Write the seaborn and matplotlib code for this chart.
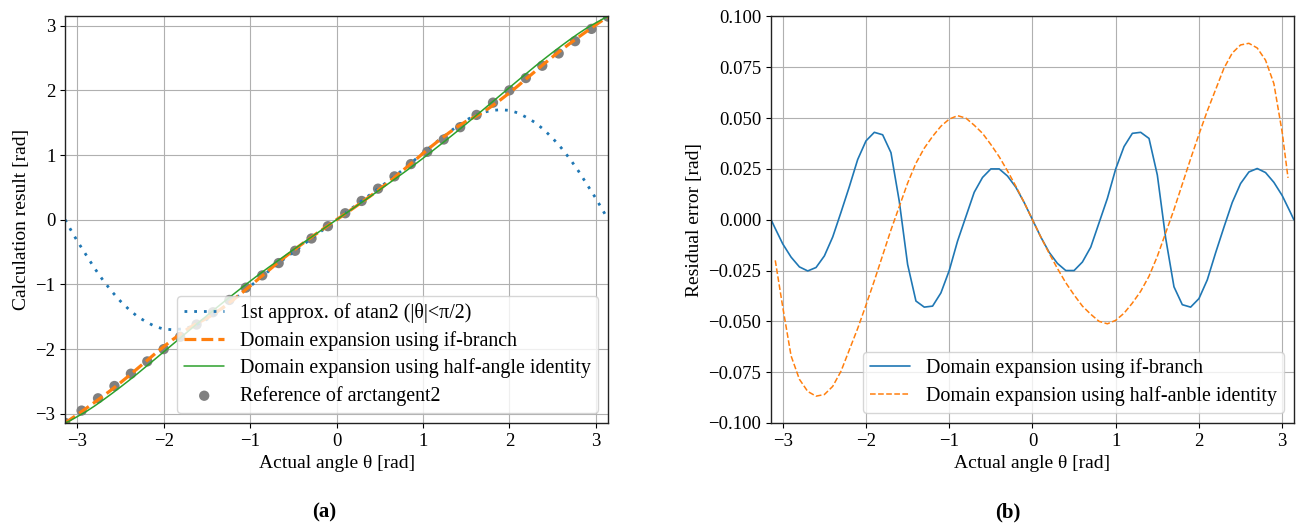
import numpy as np
import matplotlib
matplotlib.use("Agg")
import matplotlib.pyplot as plt
import seaborn as sns

# ---------------- data ----------------
theta = [-3.14, -3.1, -3.0, -2.9, -2.8, -2.7, -2.6, -2.5, -2.4, -2.3, -2.2, -2.1,
         -2.0, -1.9, -1.8, -1.7, -1.6, -1.5, -1.4, -1.3, -1.2, -1.1, -1.0, -0.9,
         -0.8, -0.7, -0.6, -0.5, -0.4, -0.3, -0.2, -0.1, 0.0,
         0.1, 0.2, 0.3, 0.4, 0.5, 0.6, 0.7, 0.8, 0.9, 1.0, 1.1, 1.2, 1.3, 1.4,
         1.5, 1.6, 1.7, 1.8, 1.9, 2.0, 2.1, 2.2, 2.3, 2.4, 2.5, 2.6, 2.7, 2.8,
         2.9, 3.0, 3.1, 3.14]

approx1 = [0.00, -0.10, -0.33, -0.54, -0.75, -0.94, -1.11, -1.26, -1.39, -1.50, -1.58, -1.65,
           -1.69, -1.70, -1.69, -1.66, -1.61, -1.54, -1.45, -1.35, -1.25, -1.14, -1.03, -0.92,
           -0.81, -0.70, -0.60, -0.50, -0.40, -0.30, -0.20, -0.10, 0.00,
           0.10, 0.20, 0.30, 0.40, 0.50, 0.60, 0.70, 0.81, 0.92, 1.03, 1.14, 1.25, 1.35, 1.45,
           1.54, 1.61, 1.66, 1.69, 1.70, 1.69, 1.65, 1.58, 1.50, 1.39, 1.26, 1.11, 0.94, 0.75,
           0.54, 0.33, 0.10, 0.00]

if_branch = [-3.140, -3.104, -3.012, -2.918, -2.823, -2.725, -2.624, -2.518, -2.409, -2.296,
             -2.184, -2.070, -1.961, -1.857, -1.759, -1.667, -1.591, -1.522, -1.440, -1.343,
             -1.243, -1.136, -1.025, -0.911, -0.799, -0.687, -0.579, -0.475, -0.375, -0.279,
             -0.184, -0.092, 0.000,
             0.092, 0.184, 0.279, 0.375, 0.475, 0.579, 0.687, 0.799, 0.911, 1.025, 1.136,
             1.243, 1.343, 1.440, 1.522, 1.591, 1.667, 1.759, 1.857, 1.961, 2.070, 2.184,
             2.296, 2.409, 2.518, 2.624, 2.725, 2.823, 2.918, 3.012, 3.104, 3.140]

half_angle = [-3.140, -3.118, -3.043, -2.967, -2.879, -2.785, -2.687, -2.586, -2.482, -2.375,
              -2.264, -2.154, -2.042, -1.930, -1.818, -1.705, -1.594, -1.482, -1.372, -1.265,
              -1.159, -1.054, -0.950, -0.849, -0.750, -0.654, -0.558, -0.463, -0.369, -0.276,
              -0.184, -0.092, 0.000,
              0.092, 0.184, 0.276, 0.369, 0.463, 0.558, 0.654, 0.750, 0.849, 0.950, 1.054,
              1.159, 1.265, 1.372, 1.482, 1.594, 1.705, 1.818, 1.930, 2.042, 2.154, 2.264,
              2.375, 2.482, 2.586, 2.687, 2.785, 2.879, 2.967, 3.043, 3.118, 3.140]

ref_x = [-3.14, -2.95, -2.76, -2.57, -2.38, -2.19, -2.00, -1.81, -1.62, -1.43, -1.24, -1.05,
         -0.86, -0.67, -0.48, -0.29, -0.10, 0.10, 0.29, 0.48, 0.67, 0.86, 1.05, 1.24, 1.43,
         1.62, 1.81, 2.00, 2.19, 2.38, 2.57, 2.76, 2.95, 3.14]
ref_y = [-3.14, -2.95, -2.76, -2.57, -2.38, -2.19, -2.00, -1.81, -1.62, -1.43, -1.24, -1.05,
         -0.86, -0.67, -0.48, -0.29, -0.10, 0.10, 0.29, 0.48, 0.67, 0.86, 1.05, 1.24, 1.43,
         1.62, 1.81, 2.00, 2.19, 2.38, 2.57, 2.76, 2.95, 3.14]

err_if = [0.0, -0.0035, -0.0119, -0.0184, -0.0232, -0.0252, -0.0235, -0.0178, -0.0085, 0.0037,
          0.0163, 0.0296, 0.0388, 0.0430, 0.0418, 0.0330, 0.0090, -0.0220, -0.0400, -0.0430,
          -0.0425, -0.0360, -0.0250, -0.0105, 0.0015, 0.0135, 0.0208, 0.0250, 0.0250, 0.0215,
          0.0160, 0.0085, 0.0,
          -0.0085, -0.0160, -0.0215, -0.0250, -0.0250, -0.0208, -0.0135, -0.0015, 0.0105,
          0.0250, 0.0360, 0.0425, 0.0430, 0.0400, 0.0220, -0.0090, -0.0330, -0.0418, -0.0430,
          -0.0388, -0.0296, -0.0163, -0.0037, 0.0085, 0.0178, 0.0235, 0.0252, 0.0232, 0.0184,
          0.0119, 0.0035, 0.0]

theta_half = [-3.09, -3.0, -2.9, -2.8, -2.7, -2.6, -2.5, -2.4, -2.3, -2.2, -2.1,
              -2.0, -1.9, -1.8, -1.7, -1.6, -1.5, -1.4, -1.3, -1.2, -1.1, -1.0, -0.9,
              -0.8, -0.7, -0.6, -0.5, -0.4, -0.3, -0.2, -0.1, 0.0,
              0.1, 0.2, 0.3, 0.4, 0.5, 0.6, 0.7, 0.8, 0.9, 1.0, 1.1, 1.2, 1.3, 1.4,
              1.5, 1.6, 1.7, 1.8, 1.9, 2.0, 2.1, 2.2, 2.3, 2.4, 2.5, 2.6, 2.7, 2.8,
              2.9, 3.0, 3.07]
err_half = [-0.0200, -0.0430, -0.0670, -0.0785, -0.0845, -0.0868, -0.0860, -0.0820, -0.0745,
            -0.0640, -0.0535, -0.0420, -0.0300, -0.0175, -0.0050, 0.0065, 0.0180, 0.0278,
            0.0352, 0.0410, 0.0460, 0.0495, 0.0512, 0.0500, 0.0465, 0.0425, 0.0370, 0.0310,
            0.0240, 0.0165, 0.0085, 0.0,
            -0.0085, -0.0165, -0.0240, -0.0310, -0.0370, -0.0425, -0.0465, -0.0500, -0.0512,
            -0.0495, -0.0460, -0.0410, -0.0352, -0.0278, -0.0180, -0.0065, 0.0050, 0.0175,
            0.0300, 0.0420, 0.0535, 0.0640, 0.0745, 0.0820, 0.0860, 0.0868, 0.0845, 0.0785,
            0.0670, 0.0430, 0.0206]

ticks_a = [-3, -2, -1, 0, 1, 2, 3]
yticks_b = [-0.100, -0.075, -0.050, -0.025, 0.000, 0.025, 0.050, 0.075, 0.100]

# ---------------- style ----------------
sns.set_style("ticks")
plt.rcParams["font.family"] = ["Liberation Serif", "DejaVu Serif"]
plt.rcParams["axes.unicode_minus"] = True
plt.rcParams["text.color"] = "black"
plt.rcParams["axes.labelcolor"] = "black"
plt.rcParams["xtick.color"] = "black"
plt.rcParams["ytick.color"] = "black"

fig = plt.figure(figsize=(13.01, 5.28), dpi=100)
ax1 = fig.add_axes([0.0500, 0.1989, 0.4174, 0.7699])
ax2 = fig.add_axes([0.5926, 0.1989, 0.4020, 0.7699])

blue, orange, green = "#1f77b4", "#ff7f0e", "#2ca02c"

# ----- panel (a) -----
sns.lineplot(x=theta, y=approx1, ax=ax1, color=blue, linewidth=2.0,
             linestyle=(0, (1, 2.5)), sort=False, errorbar=None,
             label="1st approx. of atan2 (|θ|<π/2)")
sns.lineplot(x=theta, y=if_branch, ax=ax1, color=orange, linewidth=2.3,
             linestyle="--", sort=False, errorbar=None,
             label="Domain expansion using if-branch")
sns.lineplot(x=theta, y=half_angle, ax=ax1, color=green, linewidth=1.1,
             linestyle="-", sort=False, errorbar=None,
             label="Domain expansion using half-angle identity")
sns.scatterplot(x=ref_x, y=ref_y, ax=ax1, color="#808080", s=55, edgecolor="none",
                zorder=1.8, label="Reference of arctangent2")

ax1.set_xlim(-np.pi, np.pi)
ax1.set_ylim(-np.pi, np.pi)
ax1.set_xticks(ticks_a)
ax1.set_yticks(ticks_a)
ax1.set_xlabel("Actual angle θ [rad]", fontsize=14)
ax1.set_ylabel("Calculation result [rad]", fontsize=14)
ax1.legend(loc="lower right", fontsize=14.4, framealpha=0.8, edgecolor="0.8",
           labelspacing=0.38, borderpad=0.35)

# ----- panel (b) -----
sns.lineplot(x=theta, y=err_if, ax=ax2, color=blue, linewidth=1.2,
             linestyle="-", sort=False, errorbar=None,
             label="Domain expansion using if-branch")
sns.lineplot(x=theta_half, y=err_half, ax=ax2, color=orange, linewidth=1.1,
             linestyle="--", sort=False, errorbar=None,
             label="Domain expansion using half-anble identity")
ax2.set_xlim(-np.pi, np.pi)
ax2.set_ylim(-0.1, 0.1)
ax2.set_xticks(ticks_a)
ax2.set_yticks(yticks_b)
ax2.set_yticklabels([f"{v:.3f}".replace("-", "\u2212") for v in yticks_b])
ax2.set_xlabel("Actual angle θ [rad]", fontsize=14)
ax2.set_ylabel("Residual error [rad]", fontsize=14)
ax2.legend(loc="lower right", fontsize=14.4, framealpha=0.8, edgecolor="0.8",
           labelspacing=0.38, borderpad=0.35)

for ax in (ax1, ax2):
    ax.grid(True, color="#b0b0b0", linewidth=0.8)
    ax.tick_params(axis="both", labelsize=13.5, direction="out", length=3.5, width=0.8,
                   color="black", labelcolor="black")
    for sp in ax.spines.values():
        sp.set_visible(True)
        sp.set_color("#222222")
        sp.set_linewidth(1.0)

fig.text(0.2495, 0.030, "(a)", ha="center", va="center", fontsize=15, fontweight="bold")
fig.text(0.7750, 0.030, "(b)", ha="center", va="center", fontsize=15, fontweight="bold")

fig.savefig("out.png", dpi=100)
